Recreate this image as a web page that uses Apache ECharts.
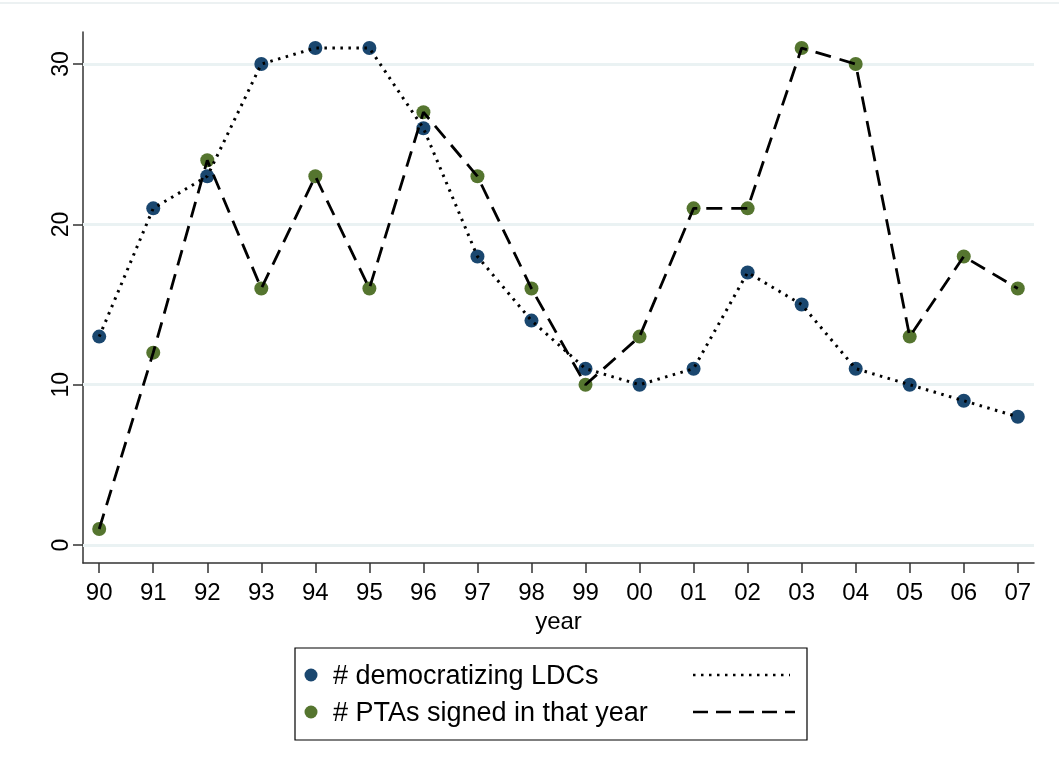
<!DOCTYPE html>
<html>
<head>
<meta charset="utf-8">
<script src="https://cdn.jsdelivr.net/npm/echarts@6/dist/echarts.min.js"></script>
<style>
html, body { margin: 0; padding: 0; background: #fff; }
#chart { width: 1059px; height: 767px; }
</style>
</head>
<body>
<div id="chart"></div>
<script>
// years shown on the x axis
var years = ['90', '91', '92', '93', '94', '95', '96', '97', '98', '99', '00', '01', '02', '03', '04', '05', '06', '07'];
// # democratizing LDCs
var democratizing = [13, 21, 23, 30, 31, 31, 26, 18, 14, 11, 10, 11, 17, 15, 11, 10, 9, 8];
// # PTAs signed in that year
var ptas = [1, 12, 24, 16, 23, 16, 27, 23, 16, 10, 13, 21, 21, 31, 30, 13, 18, 16];
var yTicks = [0, 10, 20, 30];
var seriesNames = ['# democratizing LDCs', '# PTAs signed in that year'];

var blue = '#1a476f';
var green = '#55752f';
var font = 'Liberation Sans, Arial, sans-serif';

function pairs(vals) {
	return vals.map(function(v, i) { return [i, v]; });
}
var xIdx = years.map(function(y, i) { return i; });

var chart = echarts.init(document.getElementById('chart'));
chart.setOption({
	animation: false,
	grid: { left: 83, top: 32, right: 25, bottom: 204 },
	xAxis: {
		type: 'value',
		min: -0.3,
		max: 17.3,
		name: 'year',
		nameLocation: 'middle',
		nameGap: 46,
		nameTextStyle: { fontFamily: font, fontSize: 24, color: '#000' },
		axisLine: { show: true, onZero: false, lineStyle: { color: '#333', width: 1.5 } },
		axisTick: { show: true, length: 10, customValues: xIdx, lineStyle: { color: '#333', width: 1.5 } },
		axisLabel: {
			customValues: xIdx,
			margin: 18,
			fontFamily: font, fontSize: 24, color: '#000',
			formatter: function(v) { return years[Math.round(v)]; }
		},
		splitLine: { show: false }
	},
	yAxis: {
		type: 'value',
		min: -1.12,
		max: 32,
		axisLine: { show: true, onZero: false, lineStyle: { color: '#333', width: 1.5 } },
		axisTick: { show: true, length: 10, customValues: yTicks, lineStyle: { color: '#333', width: 1.5 } },
		axisLabel: {
			customValues: yTicks,
			rotate: 90,
			margin: 10,
			fontFamily: font, fontSize: 23, color: '#000'
		},
		splitLine: { show: false }
	},
	series: [
		{
			type: 'line',
			data: pairs(democratizing),
			lineStyle: { opacity: 0 },
			symbol: 'circle', symbolSize: 14,
			itemStyle: { color: blue },
			z: 2,
			markLine: {
				silent: true,
				symbol: 'none',
				label: { show: false },
				lineStyle: { color: '#eaf2f3', width: 3, type: 'solid' },
				data: yTicks.map(function(t) { return { yAxis: t }; }),
				z: 1
			}
		},
		{
			type: 'line',
			data: pairs(ptas),
			lineStyle: { opacity: 0 },
			symbol: 'circle', symbolSize: 14,
			itemStyle: { color: green },
			z: 2
		},
		{
			type: 'line',
			data: pairs(democratizing),
			showSymbol: false,
			lineStyle: { color: '#000', width: 3, type: [2.5, 5.5] },
			z: 3
		},
		{
			type: 'line',
			data: pairs(ptas),
			showSymbol: false,
			lineStyle: { color: '#000', width: 2.8, type: [16, 9] },
			z: 3
		}
	],
	graphic: [
		{ type: 'line', shape: { x1: 0, y1: 3, x2: 1059, y2: 3 }, style: { stroke: '#e6ecee', lineWidth: 1.5 } },
		{ type: 'rect', shape: { x: 295, y: 648, width: 512, height: 92 }, style: { fill: '#fff', stroke: '#000', lineWidth: 1.2 } },
		{ type: 'circle', shape: { cx: 311, cy: 675, r: 6.5 }, style: { fill: blue } },
		{ type: 'circle', shape: { cx: 311, cy: 712, r: 6.5 }, style: { fill: green } },
		{ type: 'text', style: { x: 333, y: 677, text: seriesNames[0], font: '27px ' + font, fill: '#000', verticalAlign: 'middle' } },
		{ type: 'text', style: { x: 333, y: 714, text: seriesNames[1], font: '27px ' + font, fill: '#000', verticalAlign: 'middle' } },
		{ type: 'line', shape: { x1: 693, y1: 675, x2: 790, y2: 675 }, style: { stroke: '#000', lineWidth: 2.5, lineDash: [2.5, 5.5] } },
		{ type: 'line', shape: { x1: 693, y1: 712, x2: 795, y2: 712 }, style: { stroke: '#000', lineWidth: 2.5, lineDash: [15, 8] } }
	]
});
</script>
</body>
</html>
